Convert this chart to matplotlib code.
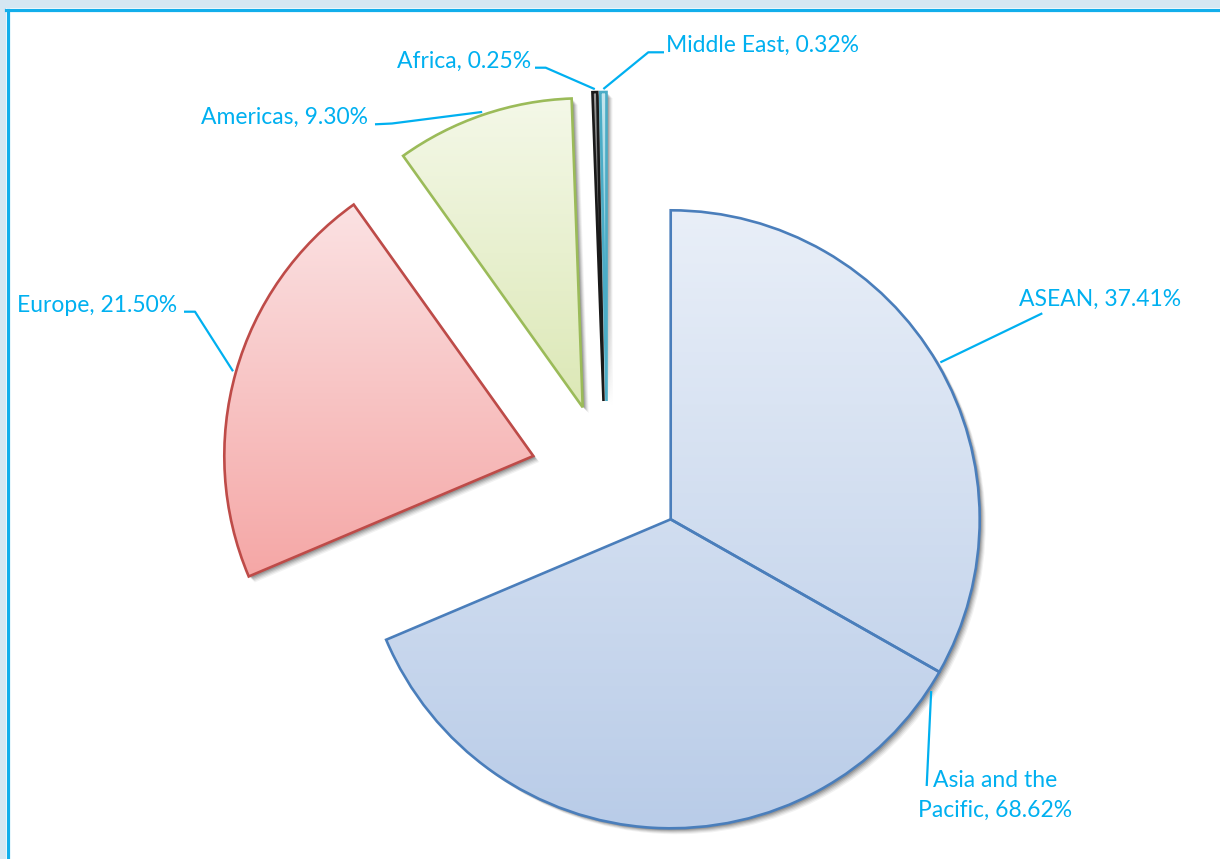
import numpy as np
import matplotlib.pyplot as plt
from matplotlib.patches import Wedge, Rectangle
from matplotlib.colors import LinearSegmentedColormap

# === Data ===
regions = ["ASEAN", "Asia and the\nPacific", "Europe", "Americas", "Africa", "Middle East"]
label_pct = ["37.41%", "68.62%", "21.50%", "9.30%", "0.25%", "0.32%"]
# wedge shares (the two blue pieces together are 68.62%)
shares = [33.22, 35.40, 21.50, 9.30, 0.25, 0.32]

# === Styles ===
face_top = ["#E9EFF8", "#E9EFF8", "#FBE2E3", "#F4F8E8", "#9A9A9A", "#C6E6EE"]
face_bot = ["#B9CCE8", "#B9CCE8", "#F5A7A6", "#DCE8B6", "#262626", "#4BACC6"]
edges = ["#4A7EBB", "#4A7EBB", "#BE4B48", "#9BBB59", "#1A1A1A", "#4BACC6"]
label_color = "#00B0F0"

W, H = 1220, 859
center = (670.7, H - 519.3)
radius = 309
# how far each slice is pulled out of the pie (pixels)
shift = [(0, 0), (0, 0), (-137.4, 63.3), (-88.0, 112.0), (-67.2, 118.3), (-64.2, 118.3)]

fig = plt.figure(figsize=(W / 100, H / 100), dpi=100)
ax = fig.add_axes([0, 0, 1, 1])

wedges, _ = ax.pie(shares, startangle=90, counterclock=False, radius=radius,
                   center=center, wedgeprops=dict(linewidth=1.9, joinstyle="miter"))

for w, (dx, dy), ec in zip(wedges, shift, edges):
    w.set_center((center[0] + dx, center[1] + dy))
    w.set_facecolor("none")
    w.set_edgecolor(ec)
    w.set_zorder(4)

# soft drop shadow (down-right)
for w in wedges:
    cx, cy = w.center
    for off, a in [(6, 0.05), (5, 0.07), (4, 0.09), (3, 0.12), (2, 0.14)]:
        ax.add_patch(Wedge((cx + off, cy - off), radius, w.theta1, w.theta2,
                           facecolor="black", edgecolor="none", alpha=a, zorder=1))

# vertical gradient fill, one gradient per colour group
grad = np.linspace(0, 1, 256).reshape(-1, 1)
for key in dict.fromkeys(zip(face_top, face_bot)):
    group = [w for w, t, b in zip(wedges, face_top, face_bot) if (t, b) == key]
    x0 = min(w.get_path().get_extents().x0 for w in group)
    x1 = max(w.get_path().get_extents().x1 for w in group)
    y0 = min(w.get_path().get_extents().y0 for w in group)
    y1 = max(w.get_path().get_extents().y1 for w in group)
    cmap = LinearSegmentedColormap.from_list("g", [key[1], key[0]])
    for w in group:
        im = ax.imshow(grad, cmap=cmap, extent=[x0, x1, y0, y1], origin="lower",
                       aspect="auto", interpolation="bilinear", zorder=2)
        im.set_clip_path(w)
        # white backing under the gradient so the shadow does not show through
        ax.add_patch(Wedge(w.center, radius, w.theta1, w.theta2,
                           facecolor="white", edgecolor="none", zorder=1.5))

# === Labels and leader lines ===
# (x, baseline of the last text line) in pixels from the top-left
label_xy = [(1019, 305.7), (995, 816.7), (17, 311.7), (201, 124.3), (396.7, 67.7), (666, 52.3)]
label_ha = ["left", "center", "left", "left", "left", "left"]
leader_pts = [
    [(1042.3, 313.3)],
    [(926.7, 786.0)],
    [(184, 311.7), (195, 311.7)],
    [(375, 124.3), (392, 123.5)],
    [(535, 67.7), (545.7, 67.7)],
    [(664, 52.3), (648.3, 52.3)],
]
anchor_deg = [None, -33.4, None, None, None, None]

for w, name, pct, (lx, ly), ha, pts, ang in zip(wedges, regions, label_pct, label_xy,
                                                label_ha, leader_pts, anchor_deg):
    ax.text(lx, H - ly, f"{name}, {pct}", color=label_color, fontsize=16.5,
            family=["Lato", "DejaVu Sans"], ha=ha, va="baseline",
            multialignment="center", linespacing=1.5, zorder=6)
    if ang is None:
        ang = (w.theta1 + w.theta2) / 2
    cx, cy = w.center
    r_out = radius + 3
    ax_pt = (cx + r_out * np.cos(np.radians(ang)), cy + r_out * np.sin(np.radians(ang)))
    xs = [p[0] for p in pts] + [ax_pt[0]]
    ys = [H - p[1] for p in pts] + [ax_pt[1]]
    ax.plot(xs, ys, color=label_color, lw=1.6, solid_capstyle="butt", zorder=5)

# === Chart frame ===
ax.add_patch(Rectangle((0, 0), 6, H, facecolor="#D5E7F2", edgecolor="none", zorder=0))
ax.add_patch(Rectangle((0, H - 8), W, 8, facecolor="#D5E7F2", edgecolor="none", zorder=0))
ax.plot([7.5, 7.5], [0, H - 9.5], color="#12AEEB", lw=2.3, zorder=7)
ax.plot([6.4, W], [H - 9.5, H - 9.5], color="#12AEEB", lw=2.3, zorder=7)

ax.set_xlim(0, W)
ax.set_ylim(0, H)
ax.set_aspect("equal")
ax.axis("off")

fig.savefig("out.png", dpi=100, facecolor="white")
